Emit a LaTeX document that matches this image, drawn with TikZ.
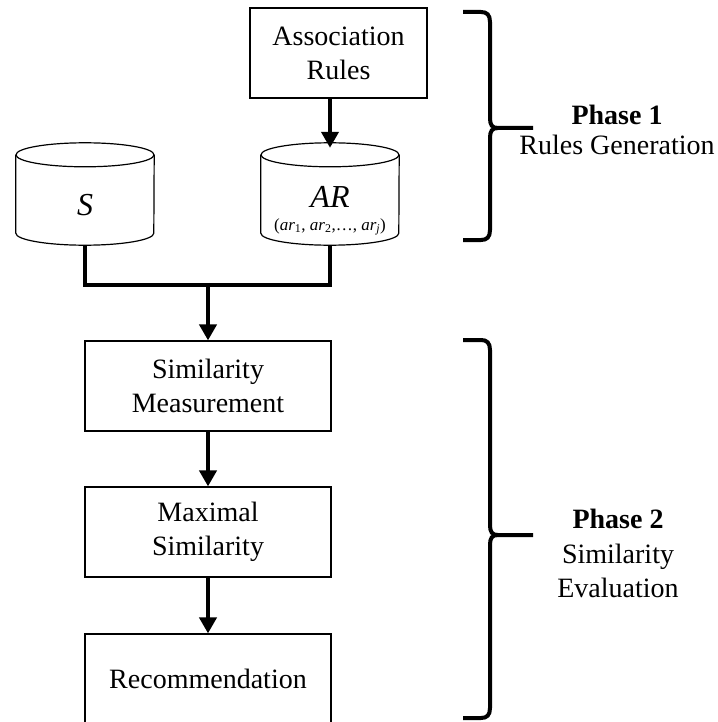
\documentclass[tikz,border=0pt]{standalone}
\usepackage{fontspec}
\setmainfont{Liberation Serif}
\usetikzlibrary{arrows.meta}

% outline of a drum (database cylinder) around a rectangular node
\newcommand\drumoutline[1]{%
  \draw[thinline] ([yshift=-12pt]#1.north) ellipse[x radius=69pt, y radius=12pt];
  \draw[thinline] ([yshift=-12pt]#1.north west) -- ([yshift=12pt]#1.south west)
    arc[start angle=180, end angle=360, x radius=69pt, y radius=12pt]
    -- ([yshift=-12pt]#1.north east);}

\begin{document}
\fontsize{28}{34}\selectfont
\begin{tikzpicture}[x=1pt, y=-1pt,
  thinline/.style={line width=1.2pt},
  box/.style={draw, thinline, minimum width=246pt, minimum height=90pt,
              inner sep=0pt, align=center},
  drum/.style={minimum width=138pt, minimum height=102pt, inner sep=0pt},
  conn/.style={line width=4.5pt},
  arr/.style={line width=4.5pt, -{Triangle[length=16pt, width=17pt]}},
  brace/.style={line width=4pt},
  bigit/.style={font=\fontsize{32}{32}\selectfont\itshape},
  small/.style={font=\fontsize{17}{17}\selectfont},
]
\useasboundingbox (0,0) rectangle (717,722);

% phase 1 nodes
\node[box, minimum width=177pt] (assoc) at (338.5,53) {Association\\Rules};
\node[drum] (S) at (85,194) {};
\node[drum] (AR) at (330,194) {};
\drumoutline{S}
\drumoutline{AR}
\node[bigit] (Stext) at (85,205) {S};
\node[bigit] (ARtext) at (330,196.5) {AR};
\node[small] (ARlist) at (330,227)
  {(\textit{ar}\textsubscript{1}, \textit{ar}\textsubscript{2},\dots, \textit{ar}\textsubscript{\textit{j}})};

% phase 2 nodes
\node[box] (sim) at (208,386) {Similarity\\Measurement};
\node[box] (max) at (208,532) {Maximal\\Similarity};
\node[box] (rec) at (208,679) {Recommendation};

% connectors
\coordinate (jn) at (208,285);
\draw[arr] (assoc.south -| AR.north) -- ([yshift=-5pt]AR.north);
\draw[conn] (S.south) |- (jn) -| (AR.south);
\draw[arr] ([yshift=2.25pt]jn) -- (sim.north);
\draw[arr] (sim.south) -- (max.north);
\draw[arr] (max.south) -- (rec.north);

% braces
\draw[brace] (463,12) -- (481,12) .. controls (487,12) and (490,15) .. (490,22)
  -- (490,118) .. controls (490,125) and (492,128) .. (498,128) -- (533,128);
\draw[brace] (498,128) .. controls (492,128) and (490,131) .. (490,138)
  -- (490,230) .. controls (490,237) and (487,240) .. (481,240) -- (463,240);
\draw[brace] (463,340) -- (481,340) .. controls (487,340) and (490,343) .. (490,350)
  -- (490,525) .. controls (490,532) and (492,535) .. (498,535) -- (533,535);
\draw[brace] (498,535) .. controls (492,535) and (490,538) .. (490,545)
  -- (490,708) .. controls (490,715) and (487,718) .. (481,718) -- (463,718);

% phase labels
\node[anchor=base, font=\bfseries] (p1) at (617,125) {Phase 1};
\node[anchor=base] (p1b) at (617,155) {Rules Generation};
\node[anchor=base, font=\bfseries] (p2) at (618,528) {Phase 2};
\node[anchor=base] (p2b) at (618,563) {Similarity};
\node[anchor=base] (p2c) at (618,597) {Evaluation};
\end{tikzpicture}
\end{document}
